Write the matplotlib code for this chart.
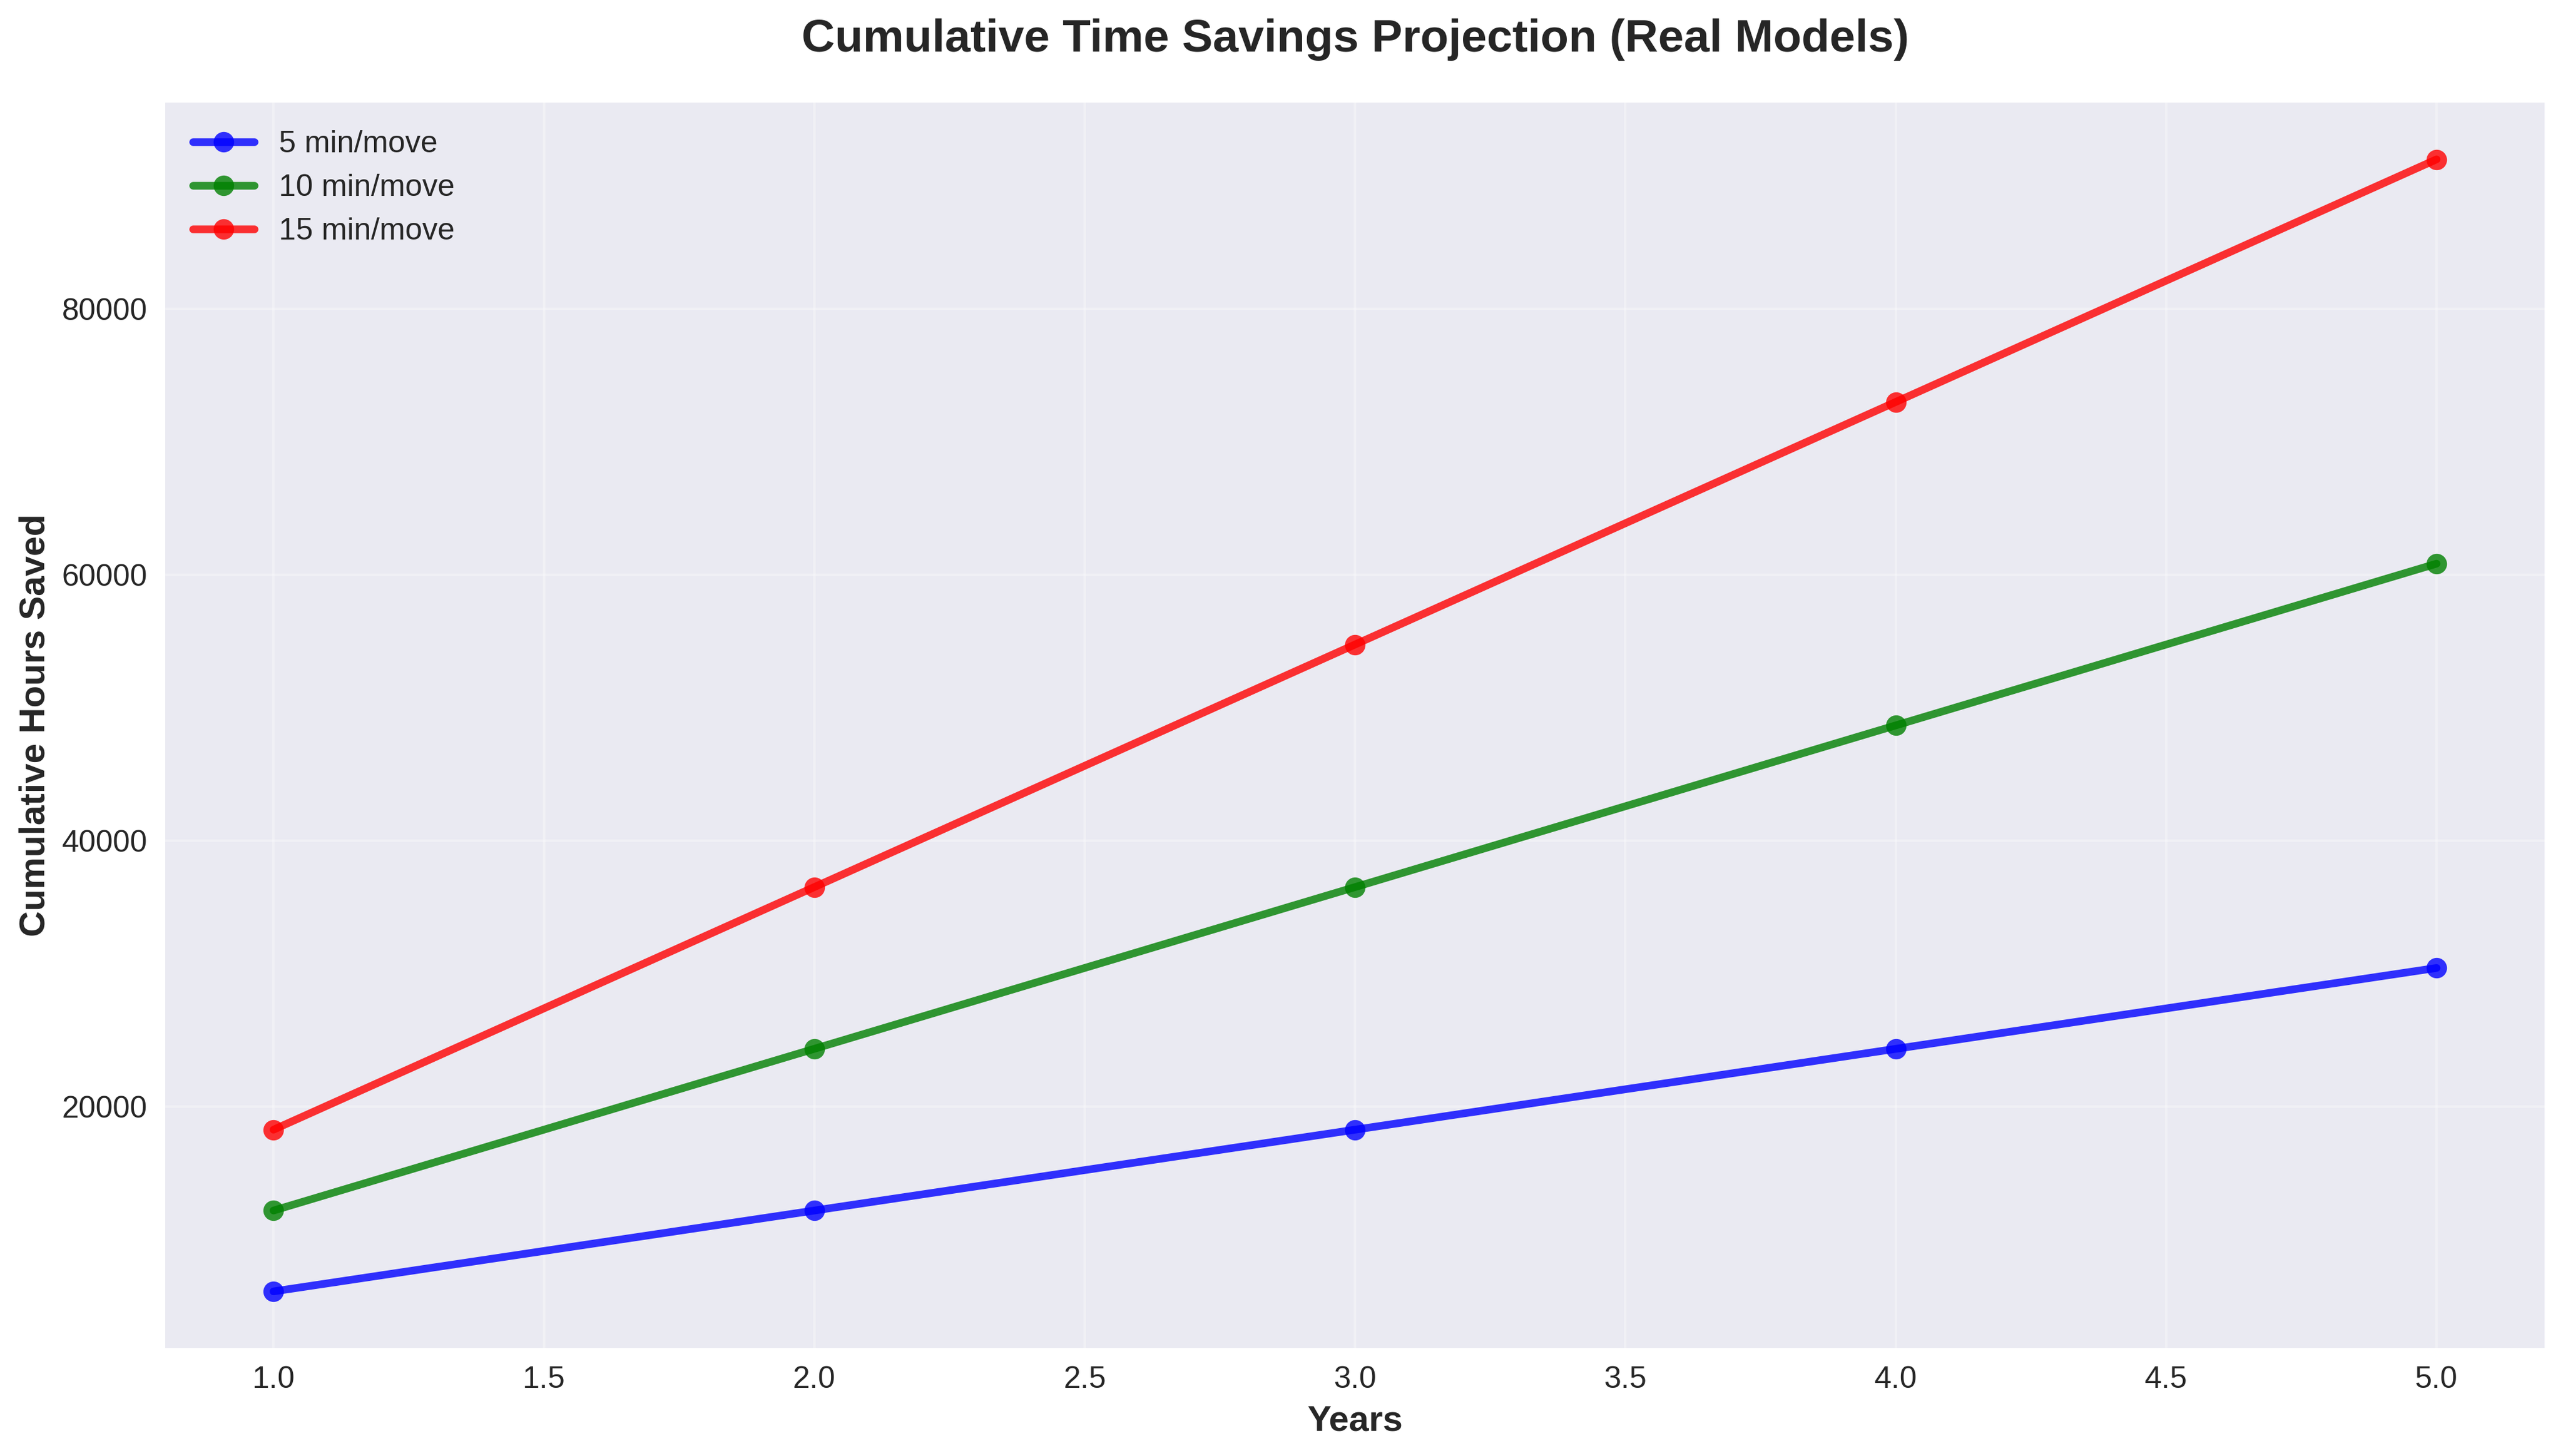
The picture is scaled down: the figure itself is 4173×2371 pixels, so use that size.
import matplotlib
matplotlib.use("Agg")
import matplotlib.pyplot as plt

years = [1, 2, 3, 4, 5]
labels = ["5 min/move", "10 min/move", "15 min/move"]
savings_5 = [6083, 12167, 18250, 24333, 30417]
savings_10 = [12167, 24333, 36500, 48667, 60833]
savings_15 = [18250, 36500, 54750, 73000, 91250]
colors = ["blue", "green", "red"]

plt.style.use("seaborn-v0_8")
plt.rcParams["font.family"] = ["Liberation Sans", "DejaVu Sans"]
plt.rcParams["xtick.labelsize"] = 12
plt.rcParams["ytick.labelsize"] = 12
plt.rcParams["legend.fontsize"] = 12

fig, ax = plt.subplots(figsize=(14, 8))
for vals, lab, c in zip([savings_5, savings_10, savings_15], labels, colors):
    ax.plot(years, vals, marker="o", linewidth=3, markersize=8, color=c, alpha=0.8, label=lab)

ax.set_title("Cumulative Time Savings Projection (Real Models)", fontsize=18, fontweight="bold", pad=20)
ax.set_xlabel("Years", fontsize=14, fontweight="bold")
ax.set_ylabel("Cumulative Hours Saved", fontsize=14, fontweight="bold")
ax.legend(loc="upper left")
ax.grid(True, alpha=0.3)
plt.tight_layout()
fig.savefig("out.png", dpi=300, bbox_inches="tight")
